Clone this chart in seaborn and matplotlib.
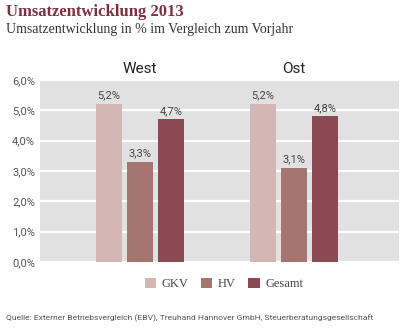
import matplotlib
matplotlib.use("Agg")
import matplotlib.pyplot as plt
import seaborn as sns
import pandas as pd
from matplotlib.ticker import FuncFormatter

regions = ["West", "Ost"]
series = ["GKV", "HV", "Gesamt"]
gkv = [5.2, 5.2]
hv = [3.3, 3.1]
gesamt = [4.7, 4.8]
yticks = [0, 1, 2, 3, 4, 5, 6]

rows = []
for name, vals in zip(series, [gkv, hv, gesamt]):
    for r, v in zip(regions, vals):
        rows.append({"Region": r, "Reihe": name, "Wert": v})
df = pd.DataFrame(rows)

sns.set_theme(style="white")
plt.rcParams["font.family"] = ["DejaVu Sans"]

colors = ["#d4b6b4", "#a67471", "#8b4a53"]
sans = ["Roboto", "DejaVu Sans"]
serif = ["Liberation Serif", "DejaVu Serif"]

fig = plt.figure(figsize=(4.06, 3.30), dpi=100)
ax = fig.add_axes([40/406, 68/330, 359/406, 182/330])
ax.set_facecolor("#e1e1e1")

sns.barplot(data=df, x="Region", y="Wert", hue="Reihe", order=regions,
            hue_order=series, palette=colors, width=0.6, gap=0.15,
            saturation=1, ax=ax, legend=True, errorbar=None, linewidth=0)

ax.set_ylim(0, 6)
ax.set_xlim(-0.649, 1.682)
ax.set_yticks(yticks)
ax.yaxis.set_major_formatter(FuncFormatter(lambda v, p: f"{v:.1f}%".replace(".", ",")))
for lbl in ax.get_yticklabels():
    lbl.set_fontfamily(sans)
    lbl.set_fontsize(8)
    lbl.set_color("#555555")
ax.tick_params(axis="y", length=0, pad=3.5)
ax.tick_params(axis="x", length=0)
ax.set_xticklabels([])
ax.set_xlabel("")
ax.set_ylabel("")
for s in ax.spines.values():
    s.set_visible(False)
ax.grid(axis="y", color="white", linewidth=1.6)
ax.set_axisbelow(True)

for cont in ax.containers:
    for bar in cont:
        h = bar.get_height()
        ax.text(bar.get_x() + bar.get_width()/2, h + 0.12,
                f"{h:.1f}%".replace(".", ","), ha="center", va="bottom",
                fontsize=8, color="#444444", family=sans)

for i, r in enumerate(regions):
    ax.text(i, 6.12, r, ha="center", va="bottom", fontsize=11,
            color="#222222", family=sans)

handles, labels = ax.get_legend_handles_labels()
ax.get_legend().remove()
leg = fig.legend(handles, labels, loc="center", bbox_to_anchor=(224/406, 1 - 284/330),
                 ncol=3, frameon=False, handlelength=0.9, handleheight=0.9,
                 handletextpad=0.45, columnspacing=1.0,
                 prop={"family": serif, "size": 9})
for t in leg.get_texts():
    t.set_color("#444444")

fig.text(6/406, 1 - 12/330, "Umsatzentwicklung 2013", ha="left", va="center",
         fontsize=12, color="#7d2f40", family=serif, fontweight="bold")
fig.text(6/406, 1 - 30/330, "Umsatzentwicklung in % im Vergleich zum Vorjahr",
         ha="left", va="center", fontsize=10, color="#333333", family=serif)
fig.text(6/406, 1 - 318/330,
         "Quelle: Externer Betriebsvergleich (EBV), Treuhand Hannover GmbH, Steuerberatungsgesellschaft",
         ha="left", va="center", fontsize=6.1, color="#555555", family=sans)

fig.savefig("out.png", dpi=100, facecolor="white")
